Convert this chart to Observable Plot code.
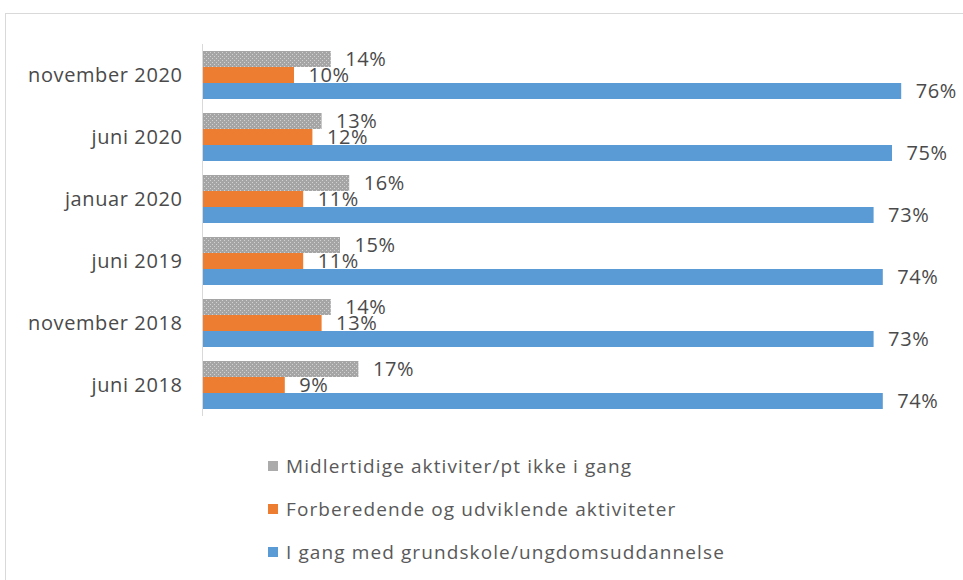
<!DOCTYPE html>
<html><head><meta charset="utf-8">
<script src="https://cdn.jsdelivr.net/npm/d3@7"></script>
<script src="https://cdn.jsdelivr.net/npm/@observablehq/plot@0.6"></script>
<style>
body{margin:0;background:#fff;font-family:"Open Sans",sans-serif;overflow:hidden}
#frame{position:absolute;left:5px;top:13px;width:1000px;height:600px;border:1px solid #d9d9d9;pointer-events:none}
#chart{position:relative}
#chart svg text{letter-spacing:0.6px}
#legend{margin-top:14px;margin-left:268px;color:#595959;font-size:19px;letter-spacing:1.1px}
.row{height:43px;display:flex;align-items:center}
.sw{width:10px;height:10px;margin-right:8px;flex:none}
</style></head><body>
<div id="frame"></div>
<div id="chart"></div>
<div id="legend"></div>
<script>
const periods = ["november 2020","juni 2020","januar 2020","juni 2019","november 2018","juni 2018"];
const series = ["Midlertidige aktiviter/pt ikke i gang","Forberedende og udviklende aktiviteter","I gang med grundskole/ungdomsuddannelse"];
const midlertidige = [14,13,16,15,14,17];
const forberedende = [10,12,11,11,13,9];
const igang = [76,75,73,74,73,74];
const colors = ["url(#hatch)","#ed7d31","#5b9bd5"];
const swatchColors = ["#ababab","#ed7d31","#5b9bd5"];

const valuesBySeries = [midlertidige, forberedende, igang];
const data = [];
periods.forEach((p, i) => series.forEach((s, j) => data.push({period: p, series: s, value: valuesBySeries[j][i]})));

const plot = Plot.plot({
  width: 963,
  height: 430,
  marginTop: 42,
  marginBottom: 13,
  marginLeft: 202,
  marginRight: 25,
  style: {fontFamily: '"Open Sans", sans-serif', fontSize: "20px", color: "#4a4a4a", background: "transparent"},
  x: {domain: [0, 80], axis: null},
  y: {domain: series, axis: null, paddingInner: 0, paddingOuter: 0.34},
  fy: {domain: periods, padding: 0, label: null, tickSize: 0, tickPadding: 20},
  color: {domain: series, range: colors},
  marks: [
    Plot.barX(data, {fy: "period", y: "series", x: "value", fill: d => colors[series.indexOf(d.series)]}),
    Plot.ruleX([0], {stroke: "#d9d9d9"}),
    Plot.text(data, {fy: "period", y: "series", x: "value", text: d => d.value + "%", dx: 14, textAnchor: "start", fill: "#4a4a4a", fontSize: 20})
  ]
});
plot.insertAdjacentHTML("afterbegin",
  '<defs><pattern id="hatch" width="4" height="4" patternUnits="userSpaceOnUse">' +
  '<rect width="4" height="4" fill="#a5a5a5"/>' +
  '<rect x="0" y="0" width="1" height="1" fill="#d2d2d2"/>' +
  '<rect x="2" y="2" width="1" height="1" fill="#d2d2d2"/>' +
  '</pattern></defs>');
document.getElementById("chart").appendChild(plot);

const legend = document.getElementById("legend");
series.forEach((s, j) => {
  const row = document.createElement("div");
  row.className = "row";
  const sw = document.createElement("span");
  sw.className = "sw";
  sw.style.background = swatchColors[j];
  row.appendChild(sw);
  const t = document.createElement("span");
  t.textContent = s;
  row.appendChild(t);
  legend.appendChild(row);
});
</script>
</body></html>
